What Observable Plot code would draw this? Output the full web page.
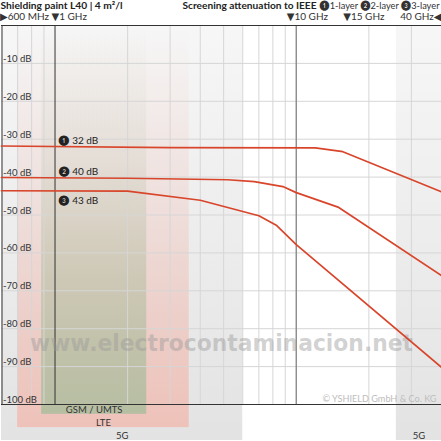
<!DOCTYPE html>
<html><head><meta charset="utf-8">
<script src="https://cdn.jsdelivr.net/npm/d3@7"></script>
<script src="https://cdn.jsdelivr.net/npm/@observablehq/plot@0.6"></script>
<style>html,body{margin:0;padding:0;background:#fff;} svg{display:block;}</style>
</head><body><div id="chart"></div>
<script>
// Screening attenuation curves (frequency in GHz, attenuation in dB)
const freqs1 = [0.6, 3, 12, 15.6, 40];
const layer1 = [-31.8, -32.2, -32.3, -33.3, -43.9];
const freqs2 = [0.6, 2, 5.2, 6.7, 8.8, 10, 15, 40];
const layer2 = [-40.1, -40.3, -40.7, -41.2, -42.5, -44.1, -48.0, -66.0];
const freqs3 = [0.6, 2, 4, 7, 8.3, 10, 40];
const layer3 = [-43.6, -43.7, -46.1, -50.2, -52.8, -57.8, -90.2];
const layerLabels = ["❶ 32 dB", "❷ 40 dB", "❸ 43 dB"];

// Frequency bands
const bandNames = ["5G", "5G", "LTE", "GSM / UMTS"];
const bandStart = [0.6, 26, 0.7, 0.88];
const bandEnd = [6, 40, 3.6, 2.4];
const bandBottom = [-109.5, -109.5, -106.1, -102.6];
const bandKind = ["grey", "grey", "pink", "green"];

// Axes
const gridFreqs = [0.7, 0.8, 0.9, 2, 3, 4, 5, 6, 7, 8, 9, 20, 30];
const yTicks = [-10, -20, -30, -40, -50, -60, -70, -80, -90, -100];
const yTickLabels = ["-10 dB", "-20 dB", "-30 dB", "-40 dB", "-50 dB", "-60 dB", "-70 dB", "-80 dB", "-90 dB", "-100 dB"];
const markerFreqs = [1, 10, 15];
const markerLabels = ["▼1 GHz", "▼10 GHz", "▼15 GHz"];
const leftEdgeLabel = "▶600 MHz";
const rightEdgeLabel = "40 GHz◀";

const titleLeft = "Shielding paint L40 | 4 m²/l";
const titleRightBold = "Screening attenuation to IEEE";
const titleRightNormal = "❶1-layer ❷2-layer ❸3-layer";
const copyright = "© YSHIELD GmbH & Co. KG";
const watermark = "www.electrocontaminacion.net";

const rows = [
  ...freqs1.map((f, i) => ({f, db: layer1[i], layer: 1})),
  ...freqs2.map((f, i) => ({f, db: layer2[i], layer: 2})),
  ...freqs3.map((f, i) => ({f, db: layer3[i], layer: 3}))
];
const bands = bandNames.map((name, i) => ({name, x1: bandStart[i], x2: bandEnd[i], bottom: bandBottom[i], kind: bandKind[i]}));
const firstVals = [layer1[0], layer2[0], layer3[0]];
const labelRows = layerLabels.map((t, i) => ({t, f: 1, db: firstVals[i], i}));
const tickRows = yTicks.map((v, i) => ({v, t: yTickLabels[i]}));
const markerRows = markerFreqs.map((f, i) => ({f, t: markerLabels[i]}));
const markerShift = [-3.5, -9.5, 4.5];

const font = "Lato, 'Open Sans', 'DejaVu Sans', sans-serif";
const lineColor = "#d8452a";

const markerMarks = markerRows.map((d, i) =>
  Plot.text([d], {x: "f", y: 0, text: "t", textAnchor: "start", lineAnchor: "bottom", dx: markerShift[i], dy: -6, fontSize: 10, fill: "#333"})
);

const svg = Plot.plot({
  width: 441,
  height: 441,
  marginLeft: 1,
  marginRight: 0,
  marginTop: 25,
  marginBottom: 37,
  style: {fontFamily: font, background: "#fff", overflow: "hidden"},
  x: {type: "log", domain: [0.6, 40], axis: null},
  y: {domain: [-100, 0], axis: null},
  marks: [
    Plot.rect(bands.filter(d => d.kind === "grey"), {x1: "x1", x2: "x2", y1: 0, y2: "bottom", fill: "url(#gGrey)"}),
    Plot.rect(bands.filter(d => d.kind === "pink"), {x1: "x1", x2: "x2", y1: 0, y2: "bottom", fill: "url(#gPink)"}),
    Plot.rect(bands.filter(d => d.kind === "green"), {x1: "x1", x2: "x2", y1: 0, y2: "bottom", fill: "url(#gGreen)"}),
    Plot.text(bands, {x: d => Math.sqrt(d.x1 * d.x2), y: "bottom", text: "name", lineAnchor: "bottom", dy: -1.5, fontSize: 9.5, fill: "#333"}),
    Plot.ruleX(gridFreqs, {stroke: "#d6d6d6", strokeWidth: 1}),
    Plot.ruleY(yTicks.slice(0, -1), {stroke: "#d6d6d6", strokeWidth: 1}),
    Plot.ruleX([10], {stroke: "#8a8a8a", strokeWidth: 1.4}),
    Plot.ruleX([1], {stroke: "#333", strokeWidth: 1}),
    Plot.ruleX([0.6], {stroke: "#333", strokeWidth: 1, dx: 0.5}),
    Plot.ruleY([0, -100], {stroke: "#333", strokeWidth: 1}),
    Plot.text([watermark], {frameAnchor: "bottom", dy: -61, text: d => d, lineAnchor: "middle", fontSize: 23, fontWeight: "bold", fontFamily: "'DejaVu Sans', sans-serif", fill: "#9a9a9a", fillOpacity: 0.45}),
    Plot.text([copyright], {frameAnchor: "bottom-right", dx: -5, dy: -3, text: d => d, lineAnchor: "bottom", textAnchor: "end", fontSize: 9.5, fill: "#bdbdbd"}),
    Plot.text(tickRows, {x: 0.6, y: "v", text: "t", textAnchor: "start", lineAnchor: "bottom", dx: 1.5, dy: -1.5, fontSize: 9.5, fill: "#333"}),
    Plot.line(rows, {x: "f", y: "db", z: "layer", stroke: lineColor, strokeWidth: 1.7, curve: "linear"}),
    Plot.text(labelRows.filter(d => d.i < 2), {x: "f", y: "db", text: "t", textAnchor: "start", lineAnchor: "bottom", dx: 3.5, dy: -2, fontSize: 10, fill: "#222"}),
    Plot.text(labelRows.filter(d => d.i === 2), {x: "f", y: "db", text: "t", textAnchor: "start", lineAnchor: "top", dx: 3.5, dy: 6, fontSize: 10, fill: "#222"}),
    ...markerMarks,
    Plot.text([leftEdgeLabel], {x: 0.6, y: 0, text: d => d, textAnchor: "start", lineAnchor: "bottom", dx: -1.5, dy: -6, fontSize: 10, fill: "#333"}),
    Plot.text([rightEdgeLabel], {x: 40, y: 0, text: d => d, textAnchor: "end", lineAnchor: "bottom", dx: 0, dy: -6, fontSize: 10, fill: "#333"}),
    Plot.text([titleLeft], {frameAnchor: "top-left", dx: -1, dy: -16.5, text: d => d, textAnchor: "start", lineAnchor: "bottom", fontSize: 10, fontWeight: "bold", fill: "#222"}),
    Plot.text([titleRightBold], {frameAnchor: "top-right", dx: -125, dy: -16.5, text: d => d, textAnchor: "end", lineAnchor: "bottom", fontSize: 10, fontWeight: "bold", fill: "#222"}),
    Plot.text([titleRightNormal], {frameAnchor: "top-right", dx: -2, dy: -16.5, text: d => d, textAnchor: "end", lineAnchor: "bottom", fontSize: 10, fill: "#333"})
  ]
});

// gradient definitions for the band fills
const defs = d3.select(svg).insert("defs", ":first-child");
function grad(id, color, stops) {
  const g = defs.append("linearGradient").attr("id", id).attr("x1", 0).attr("y1", 0).attr("x2", 0).attr("y2", 1);
  for (const [off, op] of stops) g.append("stop").attr("offset", off).attr("stop-color", color).attr("stop-opacity", op);
}
grad("gGrey", "#e3e3e3", [[0, 0.3], [1, 1]]);
grad("gPink", "#f0bcb2", [[0, 0], [0.45, 0.3], [1, 0.85]]);
grad("gGreen", "#b1bea0", [[0, 0], [0.35, 0.18], [1, 0.92]]);

// fit narrow header texts to the reference widths
const fits = new Map([[titleLeft, 122], [titleRightBold, 134], [titleRightNormal, 120], [watermark, 383], [copyright, 114]]);
d3.select(svg).selectAll("text").each(function() {
  const w = fits.get(this.textContent);
  if (w) d3.select(this).attr("textLength", w).attr("lengthAdjust", "spacingAndGlyphs");
});

document.getElementById("chart").append(svg);
</script>
</body></html>
